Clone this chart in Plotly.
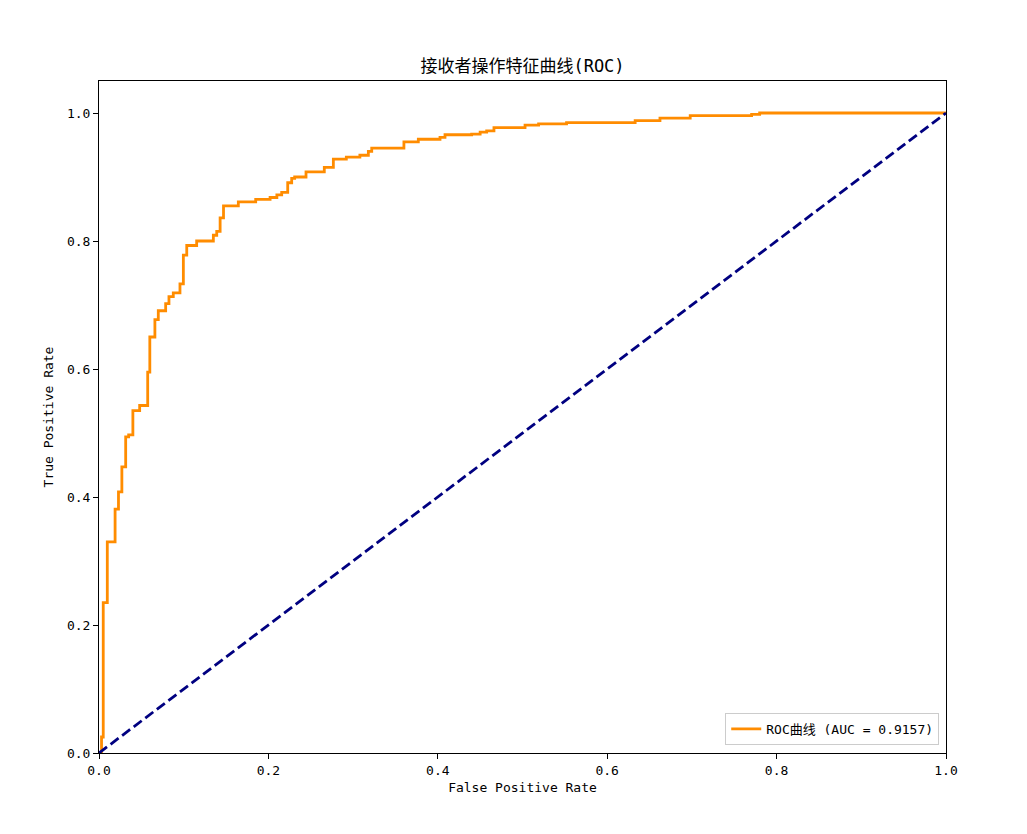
import plotly.graph_objects as go

fpr = [0, 0.003, 0.005, 0.0098, 0.019, 0.023, 0.027, 0.0315, 0.035, 0.040, 0.048,
       0.0575, 0.060, 0.066, 0.070, 0.0787, 0.0826, 0.0877, 0.0956, 0.0996, 0.1036,
       0.1153, 0.135, 0.139, 0.143, 0.147, 0.1645, 0.185, 0.202, 0.21, 0.2157,
       0.2228, 0.2275, 0.231, 0.2444, 0.266, 0.2767, 0.292, 0.308, 0.318, 0.322,
       0.360, 0.377, 0.4026, 0.4085, 0.44, 0.45, 0.4577, 0.4663, 0.503, 0.519,
       0.552, 0.633, 0.6623, 0.698, 0.7705, 0.78, 1.0]
tpr = [0, 0.025, 0.235, 0.33, 0.381, 0.408, 0.447, 0.494, 0.497, 0.535, 0.543,
       0.595, 0.650, 0.677, 0.691, 0.702, 0.713, 0.719, 0.733, 0.778, 0.793,
       0.80, 0.809, 0.815, 0.836, 0.855, 0.861, 0.865, 0.868, 0.872, 0.876,
       0.891, 0.898, 0.900, 0.908, 0.915, 0.928, 0.931, 0.934, 0.940, 0.945,
       0.955, 0.959, 0.962, 0.966, 0.967, 0.970, 0.972, 0.977, 0.981, 0.983,
       0.985, 0.988, 0.992, 0.996, 0.998, 1.0, 1.0]
diag = [0, 1]
auc_value = 0.9157
tick_vals = [0.0, 0.2, 0.4, 0.6, 0.8, 1.0]

FONT = "DejaVu Sans Mono, Noto Sans CJK SC, monospace"

W, H = 1011, 818
L, T, R, B = 91, 73, 73, 73

fig = go.Figure()
fig.add_trace(go.Scatter(
    x=fpr, y=tpr, mode="lines", line_shape="hv",
    line=dict(color="darkorange", width=2.8),
    name=f"ROC曲线 (AUC = {auc_value:.4f})",
))
fig.add_trace(go.Scatter(
    x=diag, y=diag, mode="lines",
    line=dict(color="navy", width=2.8, dash="10px,4.5px"),
    showlegend=False,
))

axis_common = dict(
    showline=True, mirror=True, linecolor="black", linewidth=1,
    ticks="outside", ticklen=5, tickwidth=1, tickcolor="black",
    showgrid=False, zeroline=False, tickvals=tick_vals, tickformat=".1f",
    tickfont=dict(family=FONT, size=13, color="black"),
)

fig.update_layout(
    width=W, height=H,
    margin=dict(l=L, r=R, t=T, b=B),
    paper_bgcolor="white", plot_bgcolor="white",
    font=dict(family=FONT, color="black"),
    title=dict(text="接收者操作特征曲线(ROC)", x=(L + (W - R)) / 2 / W, xanchor="center",
               yref="container", y=1 - 58 / H, yanchor="middle",
               font=dict(family=FONT, size=17, color="black")),
    xaxis=dict(range=[0, 1], title=dict(text="False Positive Rate", standoff=6,
               font=dict(family=FONT, size=13)), **axis_common),
    yaxis=dict(range=[0, 1.05], title=dict(text="True Positive Rate", standoff=10,
               font=dict(family=FONT, size=13)), **axis_common),
    legend=dict(x=0.992, y=0.012, xanchor="right", yanchor="bottom",
                bgcolor="rgba(255,255,255,0.8)", bordercolor="#cccccc", borderwidth=1,
                font=dict(family=FONT, size=13, color="black")),
)

fig.write_html("out.html")
